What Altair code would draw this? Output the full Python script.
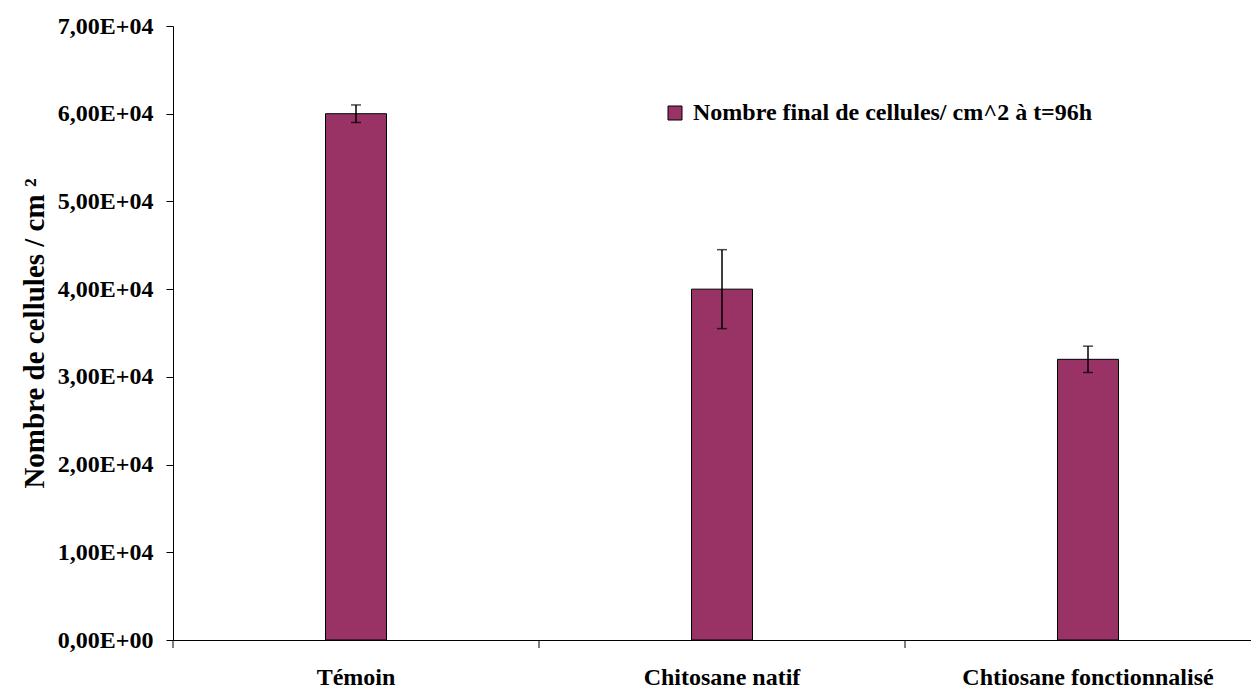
import altair as alt
import pandas as pd

categories = ["Témoin", "Chitosane natif", "Chtiosane fonctionnalisé"]
values = [60000, 40000, 32000]
errors = [1000, 4500, 1500]
series_name = "Nombre final de cellules/ cm^2 à t=96h"
y_ticks = [0, 10000, 20000, 30000, 40000, 50000, 60000, 70000]
y_tick_labels = ["0,00E+00", "1,00E+04", "2,00E+04", "3,00E+04",
                 "4,00E+04", "5,00E+04", "6,00E+04", "7,00E+04"]

df = pd.DataFrame({"cat": categories, "val": values, "err": errors})
df["lo"] = df["val"] - df["err"]
df["hi"] = df["val"] + df["err"]
df["series"] = series_name

FONT = "Liberation Serif"
label_expr = " : ".join(
    f"datum.value == {v} ? '{t}'" for v, t in zip(y_ticks, y_tick_labels)
) + " : ''"

xscale = alt.Scale(domain=categories, range=[0, 1098], paddingInner=0, paddingOuter=0)
yscale = alt.Scale(domain=[0, 70000], nice=False, zero=True)

x_axis = alt.Axis(title=None, labelAngle=0, ticks=False, tickSize=0,
                  domainColor="black", domainWidth=1,
                  labelFont=FONT, labelFontSize=24, labelFontWeight="bold",
                  labelColor="black", labelBaseline="alphabetic",
                  labelPadding=44, labelLimit=0)
y_axis = alt.Axis(values=y_ticks, labelExpr=label_expr, grid=False,
                  title="Nombre de cellules / cm ²",
                  titleFont=FONT, titleFontSize=29, titleFontWeight="bold",
                  titleColor="black", titleX=-130, titleY=307,
                  titleAngle=270, titleAlign="center", titleBaseline="alphabetic",
                  labelFont=FONT, labelFontSize=24, labelFontWeight="bold",
                  labelColor="black", labelPadding=13,
                  domainColor="black", domainWidth=1,
                  tickColor="black", tickSize=7, tickWidth=1)

base = alt.Chart(df)

bars = base.mark_bar(size=61, stroke="black", strokeWidth=1).encode(
    x=alt.X("cat:N", scale=xscale, sort=categories, axis=x_axis),
    y=alt.Y("val:Q", scale=yscale, axis=y_axis),
    fill=alt.Fill("series:N", scale=alt.Scale(range=["#993366"]),
                  legend=alt.Legend(title=None, orient="none", legendX=490, legendY=75,
                                    symbolType="square", symbolSize=196,
                                    symbolStrokeColor="black", symbolStrokeWidth=1,
                                    labelFont=FONT, labelFontSize=24,
                                    labelFontWeight="bold", labelColor="black",
                                    labelLimit=0, labelOffset=6, padding=0)),
)

err_rule = base.mark_rule(color="black", strokeWidth=1.5).encode(
    x=alt.X("cat:N", sort=categories, scale=xscale, axis=x_axis),
    y=alt.Y("lo:Q", scale=yscale, axis=y_axis),
    y2="hi:Q",
)

cap_lo = base.mark_tick(color="black", size=10, thickness=1.5).encode(
    x=alt.X("cat:N", sort=categories, scale=xscale, axis=x_axis),
    y=alt.Y("lo:Q", scale=yscale, axis=y_axis),
)
cap_hi = base.mark_tick(color="black", size=10, thickness=1.5).encode(
    x=alt.X("cat:N", sort=categories, scale=xscale, axis=x_axis),
    y=alt.Y("hi:Q", scale=yscale, axis=y_axis),
)

xticks = base.mark_rule(color="black", strokeWidth=1).encode(
    x=alt.X("cat:N", sort=categories, bandPosition=0, scale=xscale, axis=x_axis),
    y=alt.value(614),
    y2=alt.value(622),
)

chart = alt.layer(bars, err_rule, cap_lo, cap_hi, xticks).properties(
    width=1078, height=614,
    padding={"left": 165, "top": 18, "right": 0, "bottom": 49},
    autosize=alt.AutoSizeParams(type="none"),
).configure_view(stroke=None)

chart.save("out.html", embed_options={"renderer": "svg", "actions": False})
